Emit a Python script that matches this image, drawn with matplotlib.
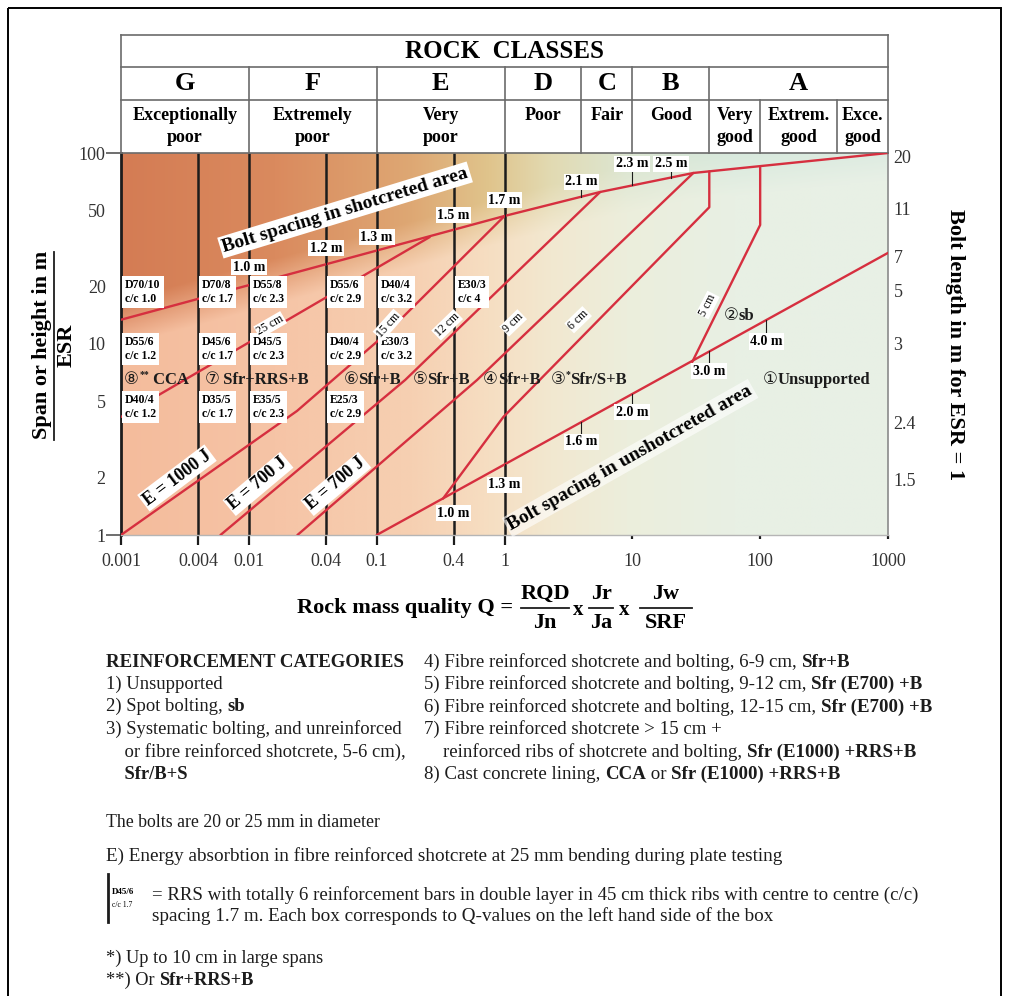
import numpy as np
import matplotlib.pyplot as plt
from matplotlib.patches import Rectangle

plt.rcParams['font.family'] = ['Liberation Serif', 'DejaVu Sans']

# rock classes along the Q axis
class_letters = ['G', 'F', 'E', 'D', 'C', 'B', 'A']
class_edges = [0.001, 0.01, 0.1, 1, 4, 10, 40, 1000]
quality_top = ['Exceptionally', 'Extremely', 'Very', 'Poor', 'Fair', 'Good', 'Very', 'Extrem.', 'Exce.']
quality_bottom = ['poor', 'poor', 'poor', '', '', '', 'good', 'good', 'good']
quality_edges = [0.001, 0.01, 0.1, 1, 4, 10, 40, 100, 400, 1000]

# axes
q_ticks = [0.001, 0.004, 0.01, 0.04, 0.1, 0.4, 1, 10, 100, 1000]
q_ticklabels = ['0.001', '0.004', '0.01', '0.04', '0.1', '0.4', '1', '10', '100', '1000']
span_ticks = [1, 2, 5, 10, 20, 50, 100]
bolt_length = ['20', '11', '7', '5', '3', '2.4', '1.5']
bolt_length_span = [94, 50, 28, 18.5, 9.8, 3.8, 1.9]
divider_q = [0.004, 0.01, 0.04, 0.1, 0.4, 1]

# bolt spacing in shotcreted area
shot_q = [0.001, 1, 5.6, 30, 1000]
shot_s = [13.4, 46.8, 62.5, 78.6, 100]
shot_labels = ['1.0 m', '1.2 m', '1.3 m', '1.5 m', '1.7 m', '2.1 m', '2.3 m', '2.5 m']
shot_label_q = [0.01, 0.04, 0.1, 0.4, 1, 4, 10, 20]
shot_label_s = [25.3, 31.7, 36.3, 47.2, 56.7, 70.5, 87.6, 87.6]

# bolt spacing in unshotcreted area
unshot_q = [0.1, 1000]
unshot_s = [1, 30]
unshot_labels = ['1.0 m', '1.3 m', '1.6 m', '2.0 m', '3.0 m', '4.0 m']
unshot_label_q = [0.4, 1, 4, 10, 40, 112]
unshot_label_s = [1.30, 1.83, 3.07, 4.4, 7.2, 10.3]

# support category boundaries (shotcrete thickness)
b25_q, b25_s = [0.001, 0.26], [4.15, 36.3]
b15_q, b15_s = [0.001, 0.0238, 0.12, 1], [1, 4.46, 11.4, 46.8]
b12_q, b12_s = [0.006, 0.167, 5.6], [1, 6.48, 62.5]
b9_q, b9_s = [0.024, 0.61, 30], [1, 6.48, 78.6]
b6_q, b6_s = [0.33, 0.98, 40, 40], [1.55, 4.15, 52, 80]
b5_q, b5_s = [29.4, 100, 100], [8.05, 42, 84]
thick_labels = ['25 cm', '15 cm', '12 cm', '9 cm', '6 cm', '5 cm']
thick_q = [0.0147, 0.123, 0.356, 1.17, 3.77, 39]
thick_s = [12.6, 12.6, 12.6, 12.9, 13.4, 16.0]
thick_rot = [30, 48, 44, 44, 44, 63]

energy_labels = ['E = 1000 J', 'E = 700 J', 'E = 700 J']
energy_q = [0.00274, 0.0118, 0.048]
energy_s = [1.99, 1.85, 1.85]
energy_rot = [37, 40, 40]

# RRS boxes, one row per span level, anchored at the Q on their left side
rrs_q = [0.001, 0.004, 0.01, 0.04, 0.1, 0.4]
rrs_row_s = [18.7, 9.4, 4.7]
rrs_rows = [
    ['D70/10', 'D70/8', 'D55/8', 'D55/6', 'D40/4', 'E30/3'],
    ['D55/6', 'D45/6', 'D45/5', 'D40/4', 'E30/3'],
    ['D40/4', 'D35/5', 'E35/5', 'E25/3'],
]
rrs_cc = [
    ['1.0', '1.7', '2.3', '2.9', '3.2', '4'],
    ['1.2', '1.7', '2.3', '2.9', '3.2'],
    ['1.2', '1.7', '2.3', '2.9'],
]

# support category markers
cat_q = [0.00106, 0.0045, 0.055, 0.19, 0.68, 2.3, 52, 105]
cat_s = [6.5, 6.5, 6.5, 6.5, 6.5, 6.5, 14, 6.5]
cat_parts = [
    [('⑧', 'normal', 12), ('**', 'bold', 7, 6), (' CCA', 'bold', 12)],
    [('⑦', 'normal', 12), (' Sfr+RRS+B', 'bold', 12)],
    [('⑥', 'normal', 12), ('Sfr+B', 'bold', 12)],
    [('⑤', 'normal', 12), ('Sfr+B', 'bold', 12)],
    [('④', 'normal', 12), ('Sfr+B', 'bold', 12)],
    [('③', 'normal', 12), ('*', 'bold', 7, 6), ('Sfr/S+B', 'bold', 12)],
    [('②', 'normal', 12), ('sb', 'bold', 12)],
    [('①', 'normal', 12), ('Unsupported', 'bold', 12)],
]

legend_left = [
    [('REINFORCEMENT CATEGORIES', 'bold', 13.6)],
    [('1) Unsupported', 'normal')],
    [('2) Spot bolting, ', 'normal'), ('sb', 'bold')],
    [('3) Systematic bolting, and unreinforced', 'normal')],
    [('    or fibre reinforced shotcrete, 5-6 cm),', 'normal')],
    [('    Sfr/B+S', 'bold')],
]
legend_right = [
    [('4) Fibre reinforced shotcrete and bolting, 6-9 cm, ', 'normal'), ('Sfr+B', 'bold')],
    [('5) Fibre reinforced shotcrete and bolting, 9-12 cm, ', 'normal'), ('Sfr (E700) +B', 'bold')],
    [('6) Fibre reinforced shotcrete and bolting, 12-15 cm, ', 'normal'), ('Sfr (E700) +B', 'bold')],
    [('7) Fibre reinforced shotcrete > 15 cm +', 'normal')],
    [('    reinforced ribs of shotcrete and bolting, ', 'normal'), ('Sfr (E1000) +RRS+B', 'bold')],
    [('8) Cast concrete lining, ', 'normal'), ('CCA', 'bold'), (' or ', 'normal'), ('Sfr (E1000) +RRS+B', 'bold')],
]

RED = '#d62f3f'
INK = '#1c1c1c'
GRID = '#6b6b6b'
W, H = 1010, 996

fig = plt.figure(figsize=(W / 100, H / 100), dpi=100)


def frac(x0, y0, x1, y1):
    return [x0 / W, 1 - y1 / H, (x1 - x0) / W, (y1 - y0) / H]


def rich(axis, xy, parts, size=12, coords='data', **kw):
    first = prev = None
    for part in parts:
        text, weight = part[0], part[1]
        sz = part[2] if len(part) > 2 else size
        rise = part[3] if len(part) > 3 else 0
        if first is None:
            first = prev = axis.annotate(text, xy=xy, xycoords=coords, fontsize=sz,
                                         fontweight=weight, ha='left', va='center',
                                         annotation_clip=False, **kw)
        else:
            prev = axis.annotate(text, xy=(1, 0), xycoords=(prev, first),
                                 xytext=(0, rise), textcoords='offset points',
                                 fontsize=sz, fontweight=weight, ha='left',
                                 va='bottom', annotation_clip=False, **kw)
    return first


# page layer in pixel units for the frame and the notes
page = fig.add_axes([0, 0, 1, 1], zorder=0)
page.set_xlim(0, W)
page.set_ylim(H, 0)
page.axis('off')
page.add_patch(Rectangle((8, 8), 993, 1010, fill=False, ec='black', lw=1.4))

# background wash behind the chart
bg = fig.add_axes(frac(121, 153, 888, 535), zorder=1)
bg.axis('off')
nx, ny = 500, 300
xf = np.linspace(0, 1, nx)
yf = np.linspace(0, 1, ny)[:, None]
bg_x = [0.0, 0.2, 0.38, 0.48, 0.56, 0.66, 0.8, 1.0]
bg_top = np.array([(212, 124, 84), (218, 138, 94), (222, 168, 116), (224, 196, 140),
                   (226, 218, 178), (220, 230, 210), (214, 232, 220), (214, 232, 222)]) / 255
bg_bot = np.array([(244, 188, 156), (246, 196, 166), (246, 208, 178), (246, 222, 194),
                   (242, 232, 208), (236, 238, 220), (232, 240, 228), (232, 240, 230)]) / 255
top = np.stack([np.interp(xf, bg_x, bg_top[:, k]) for k in range(3)], -1)
bot = np.stack([np.interp(xf, bg_x, bg_bot[:, k]) for k in range(3)], -1)
edge = np.interp(-3 + 6 * xf, np.log10(shot_q), np.log10(shot_s)) / 2
t = np.clip((yf - edge[None, :] + 0.07) / 0.12, 0, 1)[..., None]
bg.imshow(bot[None] * (1 - t) + top[None] * t, origin='lower', extent=[0, 1, 0, 1], aspect='auto')
bg.set_xlim(0, 1)
bg.set_ylim(0, 1)

# main chart
ax = fig.add_axes(frac(121, 153, 888, 535), zorder=2)
ax.set_facecolor('none')
ax.set_xscale('log')
ax.set_yscale('log')
ax.set_xlim(0.001, 1000)
ax.set_ylim(1, 100)
ax.xaxis.set_minor_locator(plt.NullLocator())
ax.yaxis.set_minor_locator(plt.NullLocator())
ax.set_xticks(q_ticks)
ax.set_xticklabels(q_ticklabels)
ax.set_yticks(span_ticks)
ax.set_yticklabels([str(s) for s in span_ticks])
ax.tick_params(axis='x', length=7, width=1.6, color=INK, labelsize=13, labelcolor='#333333', pad=6)
ax.tick_params(axis='y', length=0, width=1.2, color='#555555', labelsize=13, labelcolor='#333333', pad=11)
for tick in ax.xaxis.get_major_ticks()[7:]:
    tick.tick1line.set_markersize(3)
    tick.tick1line.set_color('#999999')
for i in (0, len(span_ticks) - 1):
    ax.yaxis.get_major_ticks()[i].tick1line.set_markersize(11)
for name, col, lw in [('left', INK, 2.0), ('right', '#8a8a8a', 1.2),
                      ('top', GRID, 1.2), ('bottom', '#b5b5b5', 1.0)]:
    ax.spines[name].set_color(col)
    ax.spines[name].set_linewidth(lw)

ax.vlines(divider_q, 1, 100, colors=INK, lw=1.8, zorder=2)

red_kw = dict(color=RED, lw=1.7, solid_capstyle='round', solid_joinstyle='round', zorder=3)
ax.plot(shot_q, shot_s, **red_kw)
ax.plot(unshot_q, unshot_s, **red_kw)
for bq, bs in [(b25_q, b25_s), (b15_q, b15_s), (b12_q, b12_s),
               (b9_q, b9_s), (b6_q, b6_s), (b5_q, b5_s)]:
    ax.plot(bq, bs, **red_kw)

# spacing marks on the two bolt spacing lines
lab_kw = dict(fontsize=10, fontweight='bold', ha='center', va='center', zorder=6,
              bbox=dict(boxstyle='square,pad=0.12', fc='white', ec='none'))
for txt, q, s in zip(shot_labels, shot_label_q, shot_label_s):
    on_line = 10 ** np.interp(np.log10(q), np.log10(shot_q), np.log10(shot_s))
    ax.plot([q, q], [on_line, s], color=INK, lw=0.8, zorder=4)
    ax.text(q, s, txt, **lab_kw)
for txt, q, s in zip(unshot_labels, unshot_label_q, unshot_label_s):
    on_line = 10 ** np.interp(np.log10(q), np.log10(unshot_q), np.log10(unshot_s))
    ax.plot([q, q], [s * 1.08, on_line], color=INK, lw=0.8, zorder=4)
    ax.text(q, s, txt, **lab_kw)

for txt, q, s, r in zip(thick_labels, thick_q, thick_s, thick_rot):
    ax.text(q, s, txt, fontsize=8.5, rotation=r, rotation_mode='anchor', ha='center', va='center',
            zorder=6, bbox=dict(boxstyle='square,pad=0.08', fc='white', ec='none'))
for txt, q, s, r in zip(energy_labels, energy_q, energy_s, energy_rot):
    ax.text(q, s, txt, fontsize=13, fontweight='bold', rotation=r, rotation_mode='anchor',
            ha='center', va='center', zorder=6,
            bbox=dict(boxstyle='square,pad=0.1', fc='white', ec='none'))

ax.text(0.0566, 50.3, 'Bolt spacing in shotcreted area', fontsize=14, fontweight='bold',
        rotation=17, rotation_mode='anchor', ha='center', va='center', zorder=6,
        bbox=dict(boxstyle='square,pad=0.12', fc='white', ec='none'))
ax.text(9.6, 2.53, 'Bolt spacing in unshotcreted area', fontsize=14, fontweight='bold',
        rotation=29.5, rotation_mode='anchor', ha='center', va='center', zorder=6,
        bbox=dict(boxstyle='square,pad=0.12', fc='white', ec='none', alpha=0.6))

for row_s, names, ccs in zip(rrs_row_s, rrs_rows, rrs_cc):
    for q, name, cc in zip(rrs_q, names, ccs):
        ax.annotate(f'{name}\nc/c {cc}', xy=(q, row_s), xytext=(3, 0), textcoords='offset points',
                    fontsize=8.5, fontweight='bold', ha='left', va='center', linespacing=1.25,
                    zorder=5, bbox=dict(boxstyle='square,pad=0.25', fc='white', ec='none'))

for q, s, parts in zip(cat_q, cat_s, cat_parts):
    rich(ax, (q, s), parts, color=INK, zorder=6)

# bolt length scale on the right
for txt, s in zip(bolt_length, bolt_length_span):
    ax.annotate(txt, xy=(1, s), xycoords=('axes fraction', 'data'), xytext=(4, 0),
                textcoords='offset points', ha='left', va='center', fontsize=13, color='#333333')

# rock class header
hd = fig.add_axes(frac(121, 35, 888, 153), zorder=2)
hd.set_xscale('log')
hd.set_xlim(0.001, 1000)
hd.set_ylim(0, 118)
hd.axis('off')
line_kw = dict(color=GRID, lw=1.2, clip_on=False)
for yv in (53, 86, 118):
    hd.plot([0.001, 1000], [yv, yv], **line_kw)
for qv in (0.001, 1000):
    hd.plot([qv, qv], [0, 118], **line_kw)
for qv in class_edges[1:-1]:
    hd.plot([qv, qv], [53, 86], **line_kw)
for qv in quality_edges[1:-1]:
    hd.plot([qv, qv], [0, 53], **line_kw)
hd.text(1, 102, 'ROCK  CLASSES', ha='center', va='center', fontsize=18, fontweight='bold')
for letter, lo, hi in zip(class_letters, class_edges[:-1], class_edges[1:]):
    hd.text(np.sqrt(lo * hi), 69, letter, ha='center', va='center', fontsize=19, fontweight='bold')
for a, b, lo, hi in zip(quality_top, quality_bottom, quality_edges[:-1], quality_edges[1:]):
    hd.text(np.sqrt(lo * hi), 38, a, ha='center', va='center', fontsize=13, fontweight='bold')
    hd.text(np.sqrt(lo * hi), 15, b, ha='center', va='center', fontsize=13, fontweight='bold')

# axis titles
page.text(42, 345, 'Span or height in m', rotation=90, ha='center', va='center',
          fontsize=16, fontweight='bold')
page.plot([54, 54], [252, 440], color=INK, lw=1.3)
page.text(67, 345, 'ESR', rotation=90, ha='center', va='center', fontsize=16, fontweight='bold')
page.text(955, 345, 'Bolt length in m for ESR = 1', rotation=-90, ha='center', va='center',
          fontsize=16, fontweight='bold')

page.text(297, 608, 'Rock mass quality Q =', ha='left', va='center', fontsize=16, fontweight='bold')
for cx, num, den, half in [(545, 'RQD', 'Jn', 24), (601, 'Jr', 'Ja', 12), (666, 'Jw', 'SRF', 26)]:
    page.text(cx, 594, num, ha='center', va='center', fontsize=16, fontweight='bold')
    page.text(cx, 623, den, ha='center', va='center', fontsize=16, fontweight='bold')
    page.plot([cx - half, cx + half], [608, 608], color=INK, lw=1.3)
for cx in (578, 624):
    page.text(cx, 610, 'x', ha='center', va='center', fontsize=15, fontweight='bold')

# notes under the chart
for i, parts in enumerate(legend_left):
    rich(page, (106, 662 + 22.4 * i), parts, size=13.4, color=INK)
for i, parts in enumerate(legend_right):
    rich(page, (424, 662 + 22.4 * i), parts, size=13.6, color=INK)

rich(page, (106, 822), [('The bolts are 20 or 25 mm in diameter', 'normal')], size=12.8, color=INK)
rich(page, (106, 856), [('E) Energy absorbtion in fibre reinforced shotcrete at 25 mm bending during plate testing', 'normal')],
     size=13.8, color=INK)
page.plot([108, 108], [874, 922], color=INK, lw=2)
page.text(112, 892, 'D45/6', fontsize=6.5, fontweight='bold', va='center')
page.text(112, 905, 'c/c 1.7', fontsize=5.5, va='center')
rich(page, (152, 895), [('= RRS with totally 6 reinforcement bars in double layer in 45 cm thick ribs with centre to centre (c/c)', 'normal')],
     size=13.6, color=INK)
rich(page, (152, 916), [('spacing 1.7 m. Each box corresponds to Q-values on the left hand side of the box', 'normal')],
     size=13.8, color=INK)
rich(page, (106, 958), [('*) Up to 10 cm in large spans', 'normal')], size=13.2, color=INK)
rich(page, (106, 980), [('**) Or ', 'normal'), ('Sfr+RRS+B', 'bold')], size=13.2, color=INK)

fig.savefig('out.png', dpi=100)
